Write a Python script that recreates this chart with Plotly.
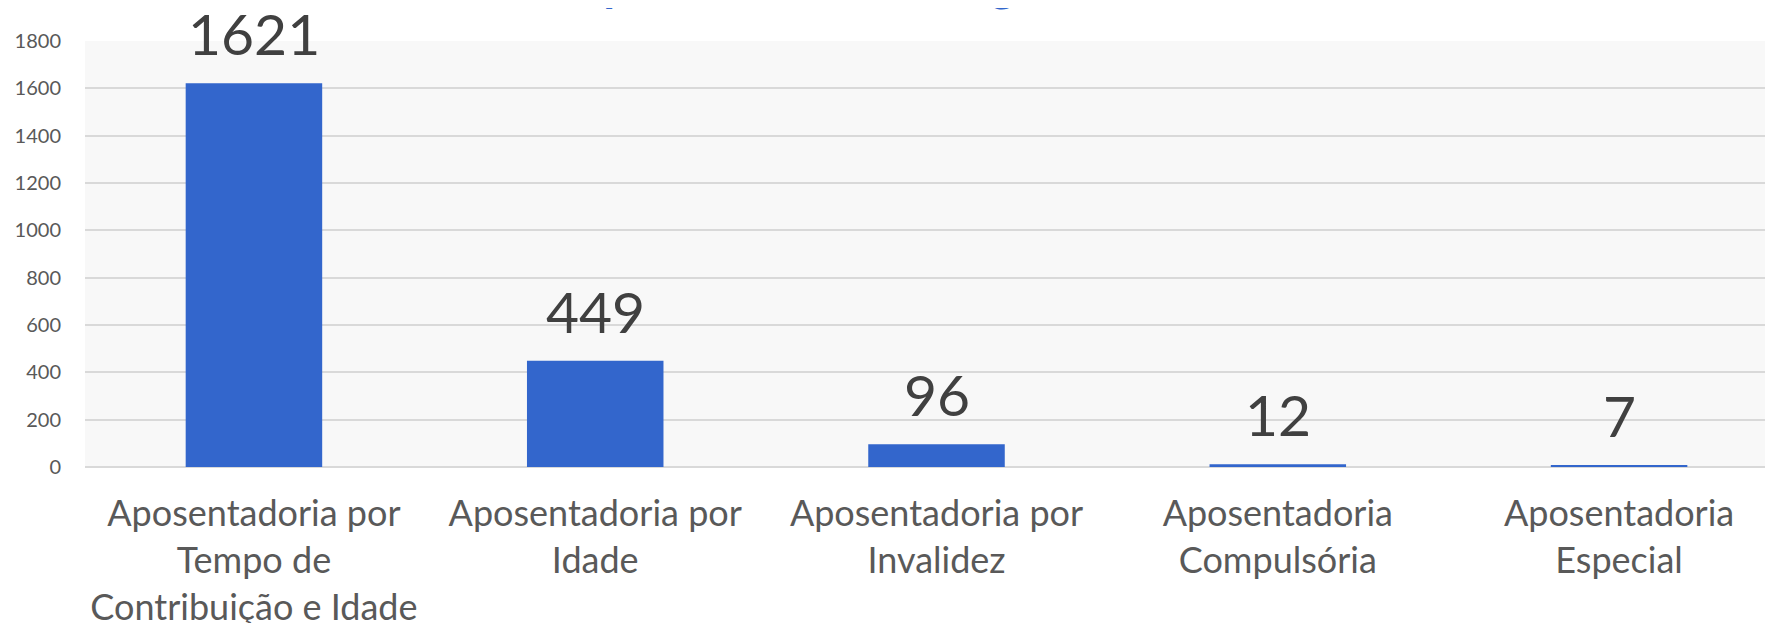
import plotly.graph_objects as go

categories = [
    "Aposentadoria por<br>Tempo de<br>Contribuição e Idade",
    "Aposentadoria por<br>Idade",
    "Aposentadoria por<br>Invalidez",
    "Aposentadoria<br>Compulsória",
    "Aposentadoria<br>Especial",
]
values = [1621, 449, 96, 12, 7]
y_ticks = [0, 200, 400, 600, 800, 1000, 1200, 1400, 1600, 1800]
title_text = "Aposentadorias Programadas"

BAR = "#3366CC"
FONT = "Lato"

fig = go.Figure()
fig.add_trace(go.Bar(
    x=list(range(len(categories))),
    y=values,
    marker=dict(color=BAR, line=dict(width=0)),
    width=0.4,
    hoverinfo="skip",
))

for i, v in enumerate(values):
    fig.add_annotation(
        x=i, y=v, xref="x", yref="y",
        text=str(v), showarrow=False,
        yanchor="bottom", yshift=14,
        font=dict(family=FONT, size=57, color="#404040"),
    )

fig.add_annotation(
    x=0.472, y=1.138, xref="paper", yref="paper",
    text="<b>" + title_text + "</b>", showarrow=False,
    xanchor="center", yanchor="middle",
    font=dict(family=FONT, size=48, color=BAR),
)

fig.update_layout(
    width=1773, height=623,
    margin=dict(l=77, r=8, t=33, b=164, autoexpand=False),
    paper_bgcolor="white",
    plot_bgcolor="#F8F8F8",
    showlegend=False,
    bargap=0.6,
)
fig.update_xaxes(
    automargin=False,
    range=[-0.495, 4.451],
    tickmode="array",
    tickvals=list(range(len(categories))),
    ticktext=categories,
    tickfont=dict(family=FONT, size=36, color="#595959"),
    ticks="outside", ticklen=15, tickcolor="rgba(0,0,0,0)",
    showgrid=False, zeroline=False, showline=False,
)
fig.update_yaxes(
    automargin=False,
    range=[0, 1800],
    tickmode="array",
    tickvals=y_ticks,
    ticktext=[str(t) for t in y_ticks],
    tickfont=dict(family=FONT, size=20, color="#595959"),
    ticks="outside", ticklen=19, tickcolor="rgba(0,0,0,0)",
    showgrid=True, gridcolor="#D9D9D9", gridwidth=2,
    zeroline=True, zerolinecolor="#D9D9D9", zerolinewidth=2,
    showline=False,
)

fig.write_html("out.html")
